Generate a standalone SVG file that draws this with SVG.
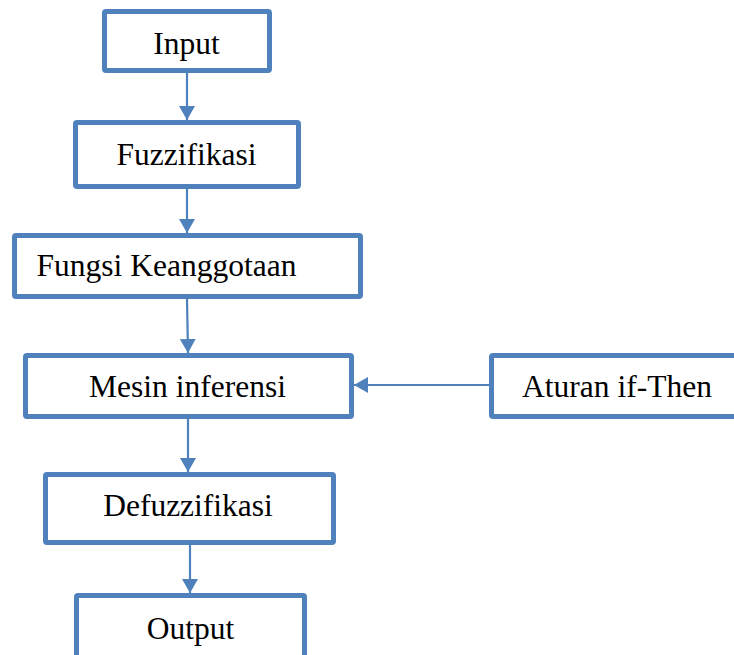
<svg xmlns="http://www.w3.org/2000/svg" width="734" height="655" viewBox="0 0 734 655">
<style>
.box{fill:#ffffff;stroke:#4F81BD;stroke-width:5;}
.lbl{font-family:"Liberation Serif","Times New Roman",serif;font-size:31.5px;fill:#000000;text-anchor:middle;}
.con{stroke:#4F81BD;stroke-width:2.2;fill:none;marker-end:url(#ah);}
</style>
<defs>
<marker id="ah" markerUnits="userSpaceOnUse" markerWidth="14" markerHeight="16" refX="14" refY="8" orient="auto">
<path d="M0,0 L14,8 L0,16 z" fill="#4F81BD"/>
</marker>
</defs>
<rect width="734" height="655" fill="#ffffff"/>
<g id="connectors">
<line class="con" x1="187" y1="73" x2="187" y2="120"/>
<line class="con" x1="187" y1="189" x2="187" y2="233"/>
<line class="con" x1="187" y1="299" x2="188" y2="353"/>
<line class="con" x1="489" y1="385" x2="354" y2="385"/>
<line class="con" x1="188" y1="419" x2="188" y2="472"/>
<line class="con" x1="190" y1="545" x2="190" y2="593"/>
</g>
<g id="input">
<rect class="box" x="104.5" y="11.5" width="165" height="59" rx="1.5"/>
<text class="lbl" x="186.5" y="54">Input</text>
</g>
<g id="fuzzifikasi">
<rect class="box" x="75.5" y="122.5" width="223" height="64" rx="1.5"/>
<text class="lbl" x="186.5" y="165">Fuzzifikasi</text>
</g>
<g id="fungsi">
<rect class="box" x="14.5" y="235.5" width="346" height="61" rx="1.5"/>
<text class="lbl" x="166.5" y="276">Fungsi Keanggotaan</text>
</g>
<g id="mesin">
<rect class="box" x="25.5" y="355.5" width="326" height="61" rx="1.5"/>
<text class="lbl" x="187.5" y="397">Mesin inferensi</text>
</g>
<g id="aturan">
<rect class="box" x="491.5" y="355.5" width="260" height="61" rx="1.5"/>
<text class="lbl" x="617" y="397">Aturan if-Then</text>
</g>
<g id="defuzzifikasi">
<rect class="box" x="45.5" y="474.5" width="288" height="68" rx="1.5"/>
<text class="lbl" x="188" y="516">Defuzzifikasi</text>
</g>
<g id="output">
<rect class="box" x="76.5" y="595.5" width="228" height="80" rx="1.5"/>
<text class="lbl" x="190.5" y="639">Output</text>
</g>
</svg>
